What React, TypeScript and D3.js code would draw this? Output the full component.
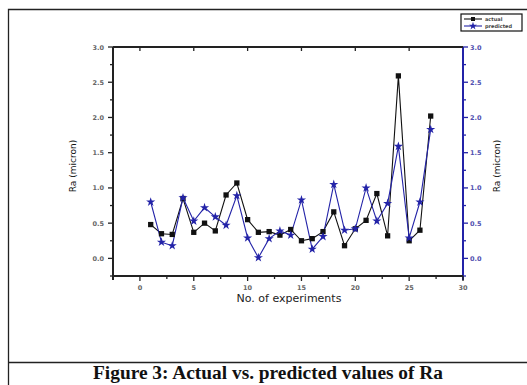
import React, { useEffect, useRef } from "react";
import * as d3 from "d3";

// Experiment numbers and surface roughness (Ra, micron)
const experiments = [1, 2, 3, 4, 5, 6, 7, 8, 9, 10, 11, 12, 13, 14, 15, 16, 17, 18, 19, 20, 21, 22, 23, 24, 25, 26, 27];
const actual = [0.48, 0.35, 0.34, 0.85, 0.37, 0.5, 0.39, 0.9, 1.07, 0.55, 0.37, 0.38, 0.33, 0.41, 0.25, 0.28, 0.38, 0.66, 0.18, 0.42, 0.54, 0.92, 0.32, 2.59, 0.25, 0.4, 2.02];
const predicted = [0.8, 0.23, 0.18, 0.86, 0.53, 0.72, 0.59, 0.47, 0.89, 0.29, 0.01, 0.28, 0.39, 0.33, 0.83, 0.13, 0.31, 1.05, 0.4, 0.42, 1.0, 0.53, 0.78, 1.59, 0.29, 0.8, 1.83];
const xTicks = [0, 5, 10, 15, 20, 25, 30];
const yTicks = [0.0, 0.5, 1.0, 1.5, 2.0, 2.5, 3.0];
const seriesNames = ["actual", "predicted"];

const W = 527;
const H = 385;
const BLUE = "#2323a8";
const AXIS_FONT = "DejaVu Sans, Verdana, sans-serif";

export default function App() {
  const ref = useRef<SVGSVGElement | null>(null);

  useEffect(() => {
    const svg = d3.select(ref.current);
    svg.selectAll("*").remove();

    const left = 113, right = 463, top = 47, bottom = 276;
    const x = d3.scaleLinear().domain([-2.5, 30]).range([left, right]);
    const y = d3.scaleLinear().domain([-0.25, 3.0]).range([bottom, top]);

    svg.append("rect").attr("width", W).attr("height", H).attr("fill", "#fff");

    // page frame and caption divider
    const frame = svg.append("g").attr("stroke", "#222").attr("stroke-width", 1.3).attr("fill", "none");
    frame.append("path").attr("d", `M8.5,${H} V9.5 H${W}`);
    frame.append("line").attr("x1", 8).attr("x2", W).attr("y1", 362.5).attr("y2", 362.5);

    svg.append("text")
      .attr("x", 268).attr("y", 379)
      .attr("text-anchor", "middle")
      .attr("font-family", "Liberation Serif, Times New Roman, serif")
      .attr("font-weight", "bold")
      .attr("font-size", 18)
      .attr("textLength", 350)
      .attr("lengthAdjust", "spacingAndGlyphs")
      .attr("fill", "#111")
      .text("Figure 3: Actual vs. predicted values of Ra");

    // left axis (outward ticks)
    const gl = svg.append("g");
    const minorY = d3.range(-0.25, 3.01, 0.25);
    minorY.forEach((v) => {
      const major = Math.abs(v * 2 - Math.round(v * 2)) < 1e-6;
      gl.append("line")
        .attr("x1", left).attr("x2", left - (major ? 5 : 3))
        .attr("y1", y(v)).attr("y2", y(v))
        .attr("stroke", "#222").attr("stroke-width", 1.3);
    });
    yTicks.forEach((v) => {
      gl.append("text")
        .attr("x", left - 9).attr("y", y(v) + 2.5)
        .attr("text-anchor", "end")
        .attr("font-family", AXIS_FONT).attr("font-size", 6.5)
        .attr("font-weight", "bold")
        .attr("fill", "#666")
        .text(v.toFixed(1));
    });
    gl.append("line").attr("x1", left).attr("x2", left).attr("y1", top).attr("y2", bottom + 4)
      .attr("stroke", "#222").attr("stroke-width", 2);

    // right axis in blue
    const gr = svg.append("g");
    minorY.forEach((v) => {
      const major = Math.abs(v * 2 - Math.round(v * 2)) < 1e-6;
      gr.append("line")
        .attr("x1", right).attr("x2", right + (major ? 5 : 3))
        .attr("y1", y(v)).attr("y2", y(v))
        .attr("stroke", BLUE).attr("stroke-width", 1.3);
    });
    yTicks.forEach((v) => {
      gr.append("text")
        .attr("x", right + 7).attr("y", y(v) + 2.5)
        .attr("text-anchor", "start")
        .attr("font-family", AXIS_FONT).attr("font-size", 6.5)
        .attr("font-weight", "bold")
        .attr("fill", "#5050b0")
        .text(v.toFixed(1));
    });
    gr.append("line").attr("x1", right).attr("x2", right).attr("y1", top).attr("y2", bottom + 4)
      .attr("stroke", BLUE).attr("stroke-width", 2);

    // bottom axis
    const gb = svg.append("g");
    d3.range(-2.5, 30.01, 2.5).forEach((v) => {
      const major = Math.abs(v / 5 - Math.round(v / 5)) < 1e-6;
      gb.append("line")
        .attr("x1", x(v)).attr("x2", x(v))
        .attr("y1", bottom).attr("y2", bottom + (major ? 5 : 3))
        .attr("stroke", "#222").attr("stroke-width", 1.3);
    });
    xTicks.forEach((v) => {
      gb.append("text")
        .attr("x", x(v)).attr("y", bottom + 14)
        .attr("text-anchor", "middle")
        .attr("font-family", AXIS_FONT).attr("font-size", 6.5)
        .attr("font-weight", "bold")
        .attr("fill", "#666")
        .text(String(v));
    });
    gb.append("line").attr("x1", left).attr("x2", right).attr("y1", bottom).attr("y2", bottom)
      .attr("stroke", "#222").attr("stroke-width", 2);

    // top mirror axis with inward ticks
    const gt = svg.append("g");
    xTicks.filter((v) => v < 30).forEach((v) => {
      gt.append("line")
        .attr("x1", x(v)).attr("x2", x(v))
        .attr("y1", top).attr("y2", top + 4)
        .attr("stroke", "#222").attr("stroke-width", 1.3);
    });
    gt.append("line").attr("x1", left).attr("x2", right).attr("y1", top).attr("y2", top)
      .attr("stroke", "#222").attr("stroke-width", 2);

    // axis titles
    svg.append("text")
      .attr("x", 289).attr("y", 302)
      .attr("text-anchor", "middle")
      .attr("font-family", AXIS_FONT).attr("font-size", 11)
      .attr("fill", "#222")
      .text("No. of experiments");
    [76, 500].forEach((px) => {
      svg.append("text")
        .attr("transform", `translate(${px},166) rotate(-90)`)
        .attr("text-anchor", "middle")
        .attr("font-family", AXIS_FONT).attr("font-size", 9)
        .attr("fill", "#111")
        .text("Ra (micron)");
    });

    // series
    const line = d3.line<number>().x((_, i) => x(experiments[i])).y((d) => y(d));
    svg.append("path").datum(actual).attr("d", line).attr("fill", "none")
      .attr("stroke", "#111").attr("stroke-width", 1.1);
    svg.append("path").datum(predicted).attr("d", line).attr("fill", "none")
      .attr("stroke", BLUE).attr("stroke-width", 1.1);

    const square = d3.symbol().type(d3.symbolSquare).size(28);
    const star = d3.symbol().type(d3.symbolStar).size(26);
    svg.append("g").selectAll("path").data(actual).join("path")
      .attr("d", square)
      .attr("transform", (d, i) => `translate(${x(experiments[i])},${y(d)})`)
      .attr("fill", "#111");
    svg.append("g").selectAll("path").data(predicted).join("path")
      .attr("d", star)
      .attr("transform", (d, i) => `translate(${x(experiments[i])},${y(d)})`)
      .attr("fill", BLUE);

    // legend
    const lg = svg.append("g").attr("transform", "translate(461,14)");
    lg.append("rect").attr("width", 61).attr("height", 17).attr("fill", "#fff")
      .attr("stroke", "#111").attr("stroke-width", 1.2);
    seriesNames.forEach((name, i) => {
      const cy = 5 + i * 7;
      const col = i === 0 ? "#111" : BLUE;
      lg.append("line").attr("x1", 3).attr("x2", 21).attr("y1", cy).attr("y2", cy)
        .attr("stroke", col).attr("stroke-width", 1.1);
      lg.append("path")
        .attr("d", i === 0 ? d3.symbol().type(d3.symbolSquare).size(16)() : d3.symbol().type(d3.symbolStar).size(20)())
        .attr("transform", `translate(12,${cy})`)
        .attr("fill", col);
      lg.append("text").attr("x", 24).attr("y", cy + 2)
        .attr("font-family", AXIS_FONT).attr("font-size", 5)
        .attr("font-weight", "bold")
        .attr("fill", "#444")
        .text(name);
    });
  }, []);

  return (
    <svg ref={ref} width={W} height={H}
      style={{ position: "absolute", left: 0, top: 0, display: "block" }} />
  );
}
